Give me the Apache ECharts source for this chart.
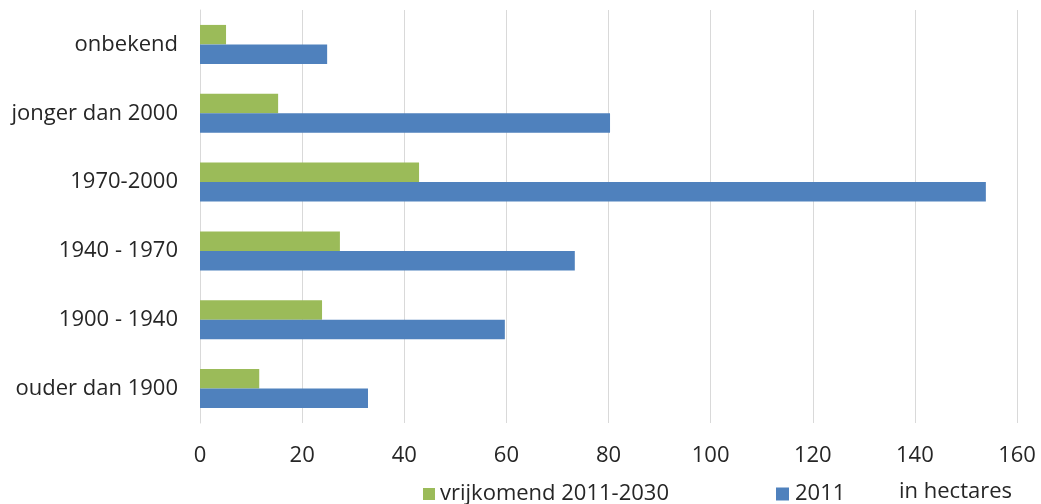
<!DOCTYPE html>
<html>
<head>
<meta charset="utf-8">
<script src="https://cdn.jsdelivr.net/npm/echarts@6/dist/echarts.min.js"></script>
<style>html,body{margin:0;padding:0;background:#fff}#c{width:1041px;height:504px}</style>
</head>
<body>
<div id="c"></div>
<script>
const categories = ['onbekend', 'jonger dan 2000', '1970-2000', '1940 - 1970', '1900 - 1940', 'ouder dan 1900'];
const vrijkomend = [5.1, 15.3, 42.9, 27.4, 23.9, 11.6];
const jaar2011 = [24.9, 80.3, 153.9, 73.4, 59.7, 32.9];
const xTicks = [0, 20, 40, 60, 80, 100, 120, 140, 160];

const FONT = '"Open Sans", Lato, sans-serif';
const chart = echarts.init(document.getElementById('c'));
chart.setOption({
  animation: false,
  grid: { left: 200, right: 24, top: 10, bottom: 81 },
  legend: [
    { data: ['vrijkomend 2011-2030'], left: 423, top: 483, padding: 0, icon: 'rect', itemWidth: 12, itemHeight: 12,
      textStyle: { fontFamily: FONT, fontSize: 22, color: '#262626' } },
    { data: ['2011'], left: 776, top: 483, padding: 0, icon: 'rect', itemWidth: 13, itemHeight: 13,
      textStyle: { fontFamily: FONT, fontSize: 22, color: '#262626', padding: [0, 0, 0, 1] } }
  ],
  graphic: [{ type: 'text', left: 899, top: 481, style: { text: 'in hectares', font: '22px ' + FONT, fill: '#262626' } }],
  xAxis: {
    type: 'value', min: xTicks[0], max: xTicks[xTicks.length - 1], interval: 20,
    axisLine: { show: false }, axisTick: { show: false },
    axisLabel: { fontFamily: FONT, fontSize: 22, color: '#262626', margin: 22 },
    splitLine: { lineStyle: { color: '#d9d9d9', width: 1 } }
  },
  yAxis: {
    type: 'category', data: categories, inverse: true,
    axisLine: { show: true, lineStyle: { color: '#d9d9d9' } }, axisTick: { show: false },
    axisLabel: { fontFamily: FONT, fontSize: 22, color: '#262626', margin: 22 }
  },
  series: [
    { name: 'vrijkomend 2011-2030', type: 'bar', data: vrijkomend, barWidth: 19.5, barGap: '0%',
      itemStyle: { color: '#9BBB59' } },
    { name: '2011', type: 'bar', data: jaar2011, barWidth: 19.5, barGap: '0%',
      itemStyle: { color: '#4F81BD' } }
  ]
});
</script>
</body>
</html>
